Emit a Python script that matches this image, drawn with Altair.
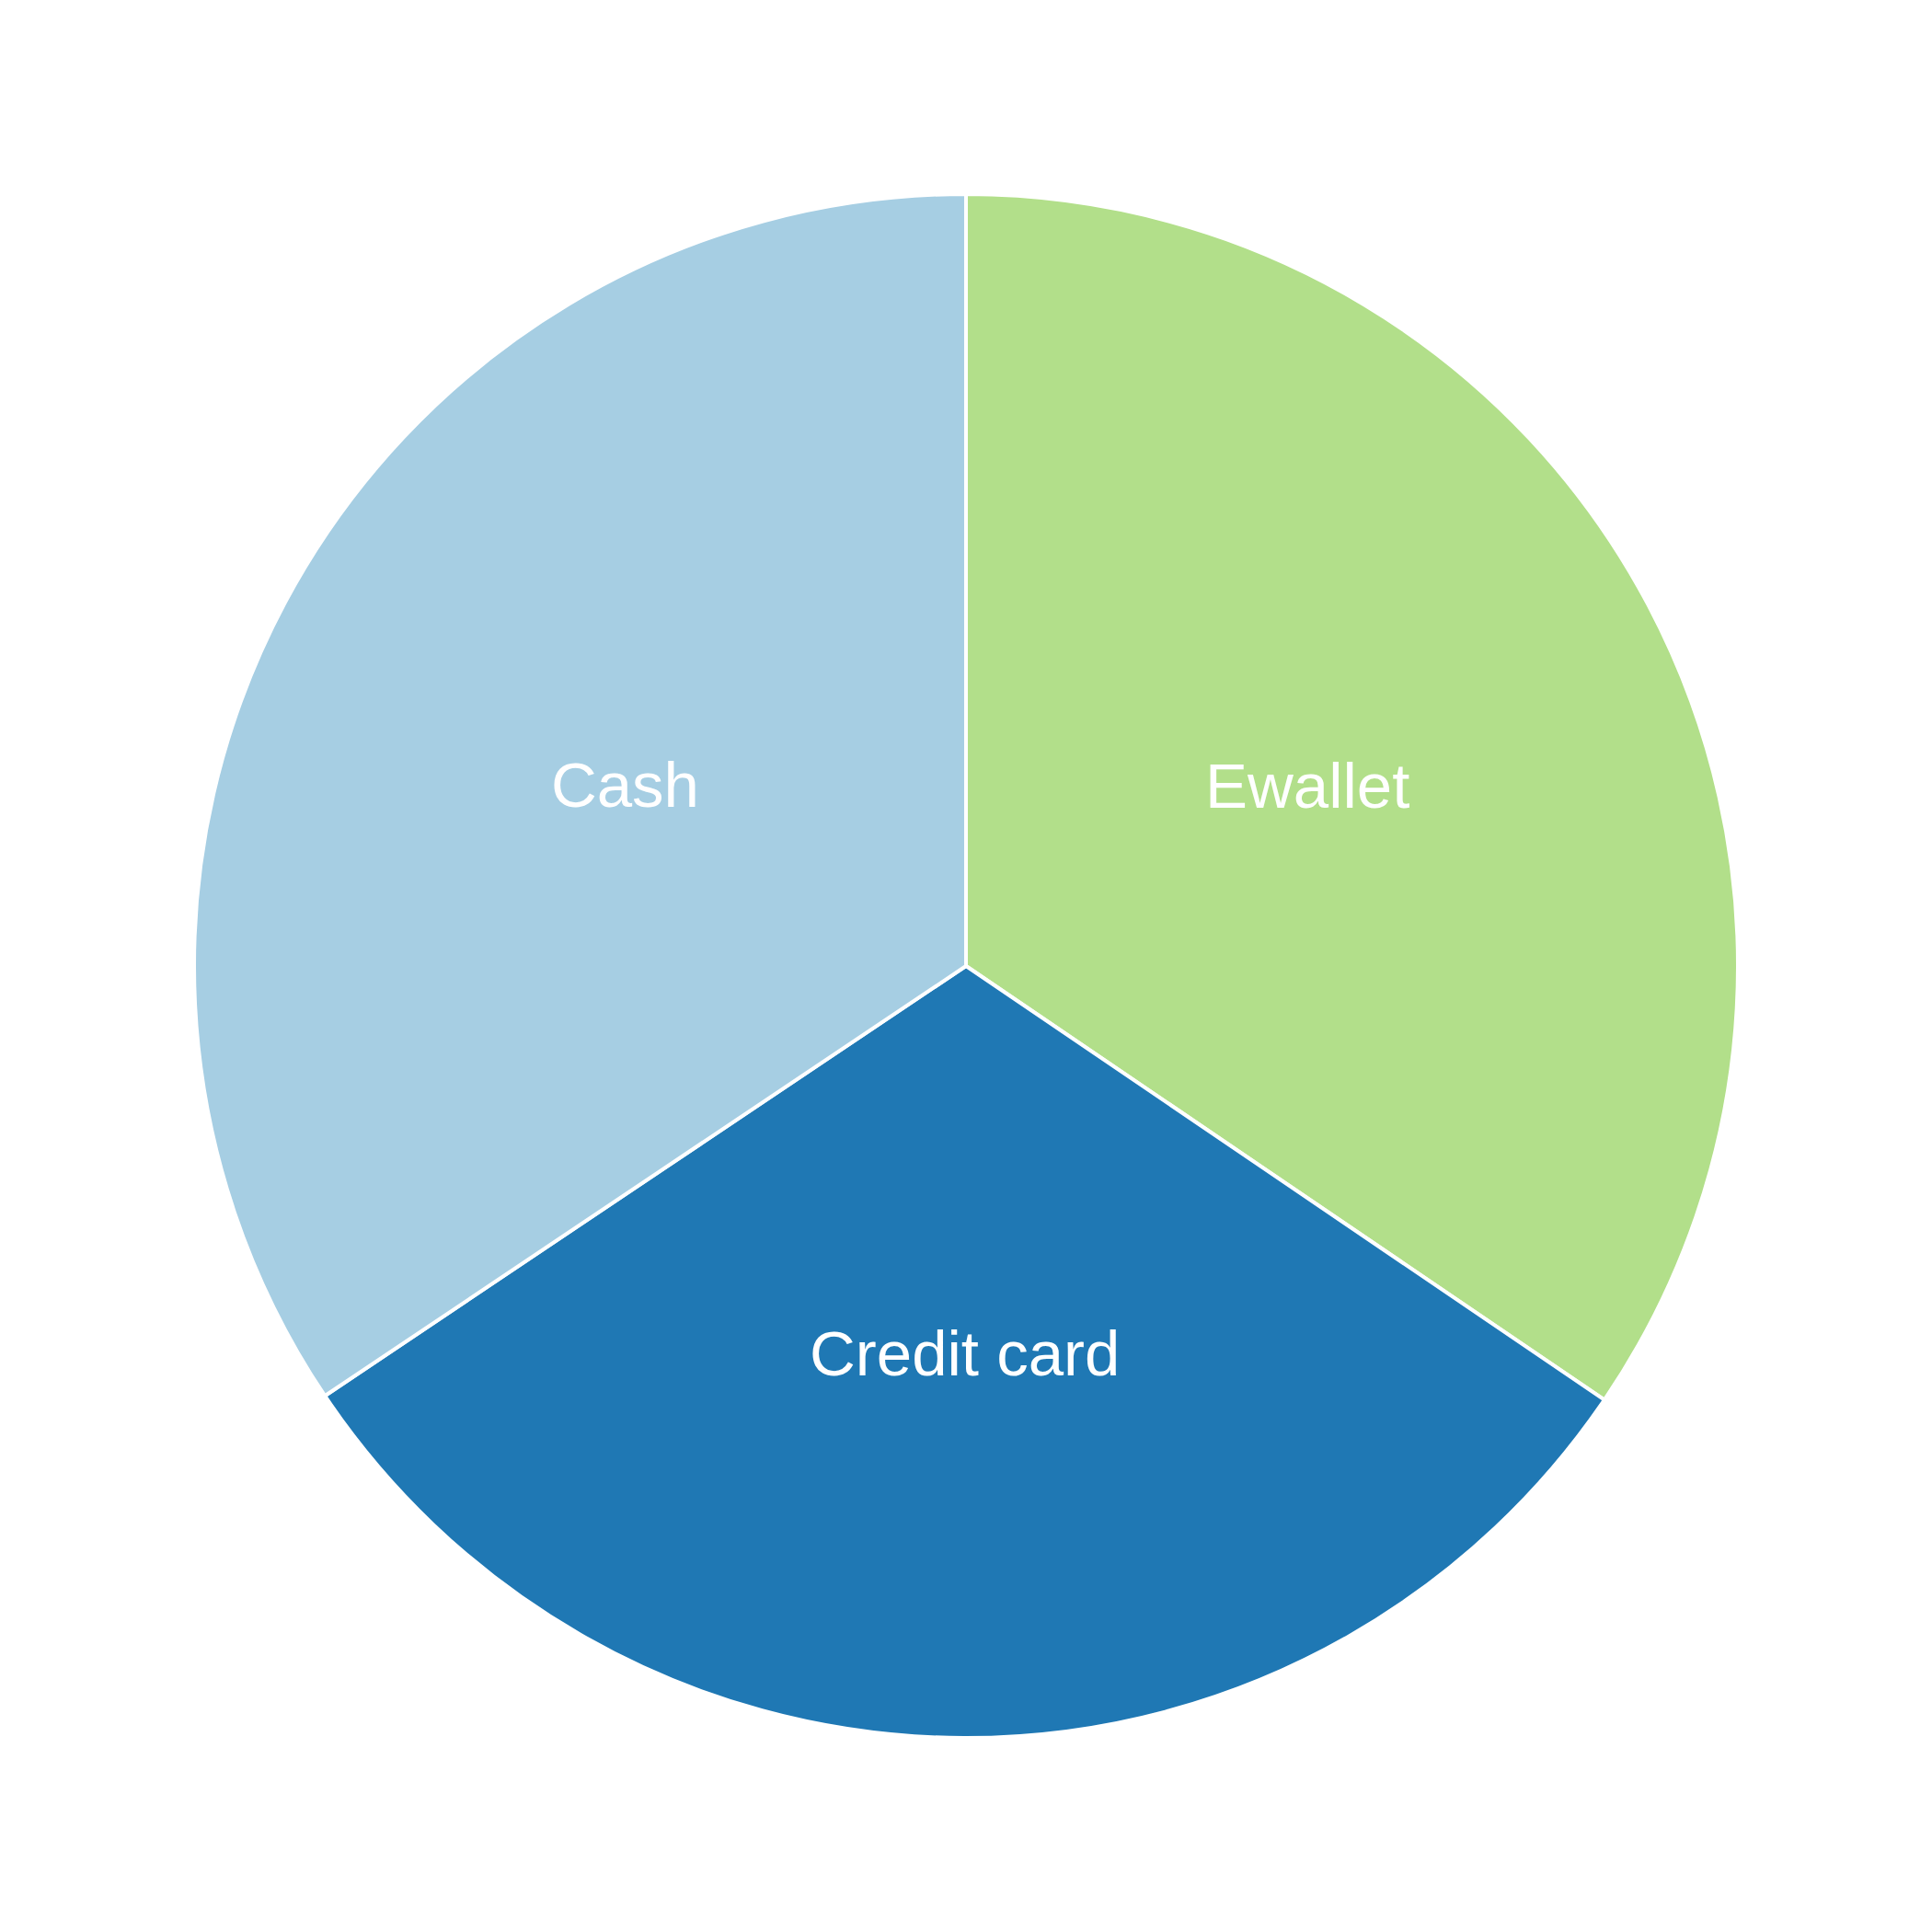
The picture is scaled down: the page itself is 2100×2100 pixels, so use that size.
import altair as alt
import pandas as pd

categories = ["Ewallet", "Credit card", "Cash"]
counts = [345, 311, 344]
order = [0, 1, 2]

df = pd.DataFrame({"payment": categories, "count": counts, "order": order})

color = alt.Color("payment:N",
                  scale=alt.Scale(domain=["Cash", "Credit card", "Ewallet"],
                                  range=["#a6cee3", "#1f78b4", "#b2df8a"]),
                  legend=None)

base = alt.Chart(df).encode(
    theta=alt.Theta("count:Q", stack=True),
    order=alt.Order("order:Q"),
)

pie = base.mark_arc(outerRadius=839, stroke="white", strokeWidth=4).encode(color=color)
labels = base.mark_text(radius=420, fontSize=69, dy=4, font="Liberation Sans", color="white").encode(
    text="payment:N")

chart = (pie + labels).properties(width=2100, height=2100, padding=0).configure_view(stroke=None)
chart.save("out.html", embed_options={"renderer": "svg", "actions": False})
